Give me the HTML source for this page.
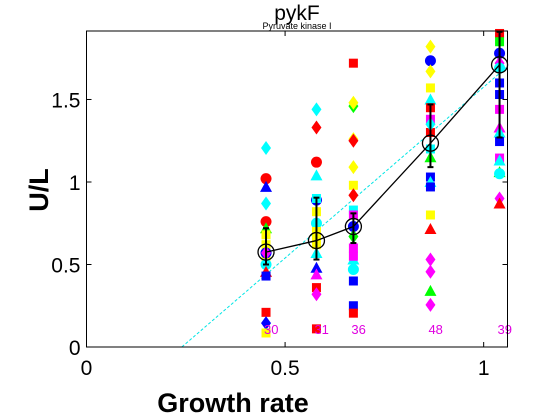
<!DOCTYPE html>
<html><head><meta charset="utf-8"><style>
body{margin:0;background:#fff;}
svg{display:block;font-family:"Liberation Sans",sans-serif;}
</style></head><body>
<svg id="chart" width="560" height="420">
<rect x="0" y="0" width="560" height="420" fill="#fff"/>
<text x="297" y="20" font-size="21" text-anchor="middle">pykF</text>
<text x="297" y="29" font-size="9" text-anchor="middle">Pyruvate kinase I</text>
<text x="233" y="412" font-size="27" font-weight="bold" text-anchor="middle">Growth rate</text>
<text transform="translate(48,190) rotate(-90)" font-size="27" font-weight="bold" text-anchor="middle">U/L</text>
<g id="plot"></g>
</svg>
<script>
const xTicks=[0,0.5,1];
const xTickLabels=["0","0.5","1"];
const yTicks=[0,0.5,1,1.5];
const yTickLabels=["0","0.5","1","1.5"];
const groupX=[0.452,0.579,0.672,0.866,1.04];
const groupCounts=["30","31","36","48","39"];
const meanY=[0.575,0.645,0.73,1.235,1.71];
const errLow=[0.50,0.53,0.63,1.09,1.27];
const errHigh=[0.72,0.905,0.81,1.47,1.91];
const fitLine=[[0.24,0],[1.06,1.70]];
const ptGroup=[0,0,0,0,0,0,0,0,0,0,0,0,0,0,0,0,0,
1,1,1,1,1,1,1,1,1,1,1,1,1,1,1,1,1,
2,2,2,2,2,2,2,2,2,2,2,2,2,2,2,2,2,2,2,
3,3,3,3,3,3,3,3,3,3,3,3,3,3,3,3,3,3,3,3,
4,4,4,4,4,4,4,4,4,4,4,4,4,4,4,4,4];
const ptY=[1.206,1.02,0.97,0.87,0.76,0.72,0.68,0.62,0.55,0.57,0.57,0.5,0.455,0.43,0.21,0.145,0.085,
1.44,1.33,1.12,1.04,0.89,0.9,0.82,0.75,0.7,0.62,0.57,0.48,0.44,0.36,0.32,0.11,0.66,
1.72,1.46,1.48,1.26,1.25,1.09,0.98,0.92,0.83,0.8,0.73,0.67,0.6,0.53,0.47,0.4,0.25,0.205,0.55,
1.82,1.735,1.67,1.57,1.5,1.45,1.38,1.3,1.35,1.2,1.15,1.03,1.0,0.97,0.80,0.715,0.53,0.456,0.34,0.255,
1.9,1.85,1.78,1.72,1.69,1.6,1.53,1.44,1.33,1.3,1.245,1.145,1.13,1.06,1.05,0.9,0.87];
const ptColor=["cyan","red","blue","cyan","red","lime","yellow","yellow","yellow","blue","magenta","cyan","red","blue","red","blue","yellow",
"cyan","red","red","cyan","blue","cyan","yellow","cyan","yellow","yellow","cyan","blue","magenta","red","magenta","red","yellow",
"red","lime","yellow","yellow","red","yellow","yellow","red","cyan","magenta","blue","lime","magenta","cyan","cyan","blue","blue","red","magenta",
"yellow","blue","yellow","yellow","cyan","red","magenta","red","cyan","cyan","lime","blue","cyan","blue","yellow","red","magenta","magenta","lime","magenta",
"red","lime","blue","magenta","cyan","blue","blue","magenta","magenta","cyan","blue","magenta","cyan","lime","cyan","magenta","red"];
const ptShape=["d","o","^","d","o","^","s","s","s","o","d","o","^","s","s","d","s",
"d","d","o","^","o","s","s","o","s","s","^","^","^","s","d","s","s",
"s","d","d","d","d","d","s","d","s","s","o","d","s","^","o","s","s","s","s",
"d","o","d","s","^","s","s","s","d","s","^","s","^","s","s","^","d","d","^","d",
"s","s","o","d","o","s","s","s","^","^","s","s","^","^","o","d","^"];

const L=86.5,R=507.5,T=31,B=347,xMax=1.06,yMax=1.915;
const sx=v=>L+(R-L)*v/xMax;
const sy=v=>B-(B-T)*v/yMax;
const NS="http://www.w3.org/2000/svg";
const plot=document.getElementById('plot');
function mk(tag,attrs,parent){const e=document.createElementNS(NS,tag);for(const k in attrs)e.setAttribute(k,attrs[k]);(parent||plot).appendChild(e);return e;}

const fl=mk('line',{x1:sx(fitLine[0][0]),y1:sy(fitLine[0][1]),x2:sx(fitLine[1][0]),y2:sy(fitLine[1][1]),stroke:'#00e5e5','stroke-width':1,'stroke-dasharray':'3,2'});



for(let i=0;i<ptY.length;i++){
  const cx=sx(groupX[ptGroup[i]]),cy=sy(ptY[i]),c=ptColor[i],s=ptShape[i];let e;
  if(s==='o')e=mk('circle',{cx:cx,cy:cy,r:5.5,fill:c});
  else if(s==='s')e=mk('rect',{x:cx-4.5,y:cy-4.5,width:9,height:9,fill:c});
  else if(s==='^')e=mk('polygon',{points:`${cx},${cy-6} ${cx-6},${cy+5} ${cx+6},${cy+5}`,fill:c});
  else e=mk('polygon',{points:`${cx},${cy-7} ${cx-5},${cy} ${cx},${cy+7} ${cx+5},${cy}`,fill:c});
  
  
}
const ml=mk('polyline',{points:groupX.map((x,i)=>sx(x)+','+sy(meanY[i])).join(' '),fill:'none',stroke:'#000','stroke-width':1.3});


for(let i=0;i<groupX.length;i++){
  const x=sx(groupX[i]);
  const g=mk('g',{});
  
  
  mk('line',{x1:x,y1:sy(errLow[i]),x2:x,y2:sy(errHigh[i]),stroke:'#000','stroke-width':2},g);
  mk('line',{x1:x-3,y1:sy(errLow[i]),x2:x+3,y2:sy(errLow[i]),stroke:'#000','stroke-width':2},g);
  mk('line',{x1:x-3,y1:sy(errHigh[i]),x2:x+3,y2:sy(errHigh[i]),stroke:'#000','stroke-width':2},g);
  const m=mk('circle',{cx:x,cy:sy(meanY[i]),r:8,fill:'none',stroke:'#000','stroke-width':1.3});
  
  
  const t=mk('text',{x:x-2,y:334,'font-size':13,fill:'#e000e0'});
  t.textContent=groupCounts[i];
  
  
}
const box=mk('rect',{x:L,y:T,width:R-L,height:B-T,fill:'none',stroke:'#000','stroke-width':1});


xTicks.forEach((v,i)=>{
  const x=sx(v);
  mk('line',{x1:x,y1:B,x2:x,y2:B-5,stroke:'#000'});
  mk('line',{x1:x,y1:T,x2:x,y2:T+5,stroke:'#000'});
  const t=mk('text',{x:x,y:375,'font-size':21,'text-anchor':'middle'});
  t.textContent=xTickLabels[i];
  
  
});
yTicks.forEach((v,i)=>{
  const y=sy(v);
  mk('line',{x1:L,y1:y,x2:L+5,y2:y,stroke:'#000'});
  mk('line',{x1:R,y1:y,x2:R-5,y2:y,stroke:'#000'});
  const t=mk('text',{x:L-6,y:y+8,'font-size':21,'text-anchor':'end'});
  t.textContent=yTickLabels[i];
  
  
});
</script>
</body></html>
